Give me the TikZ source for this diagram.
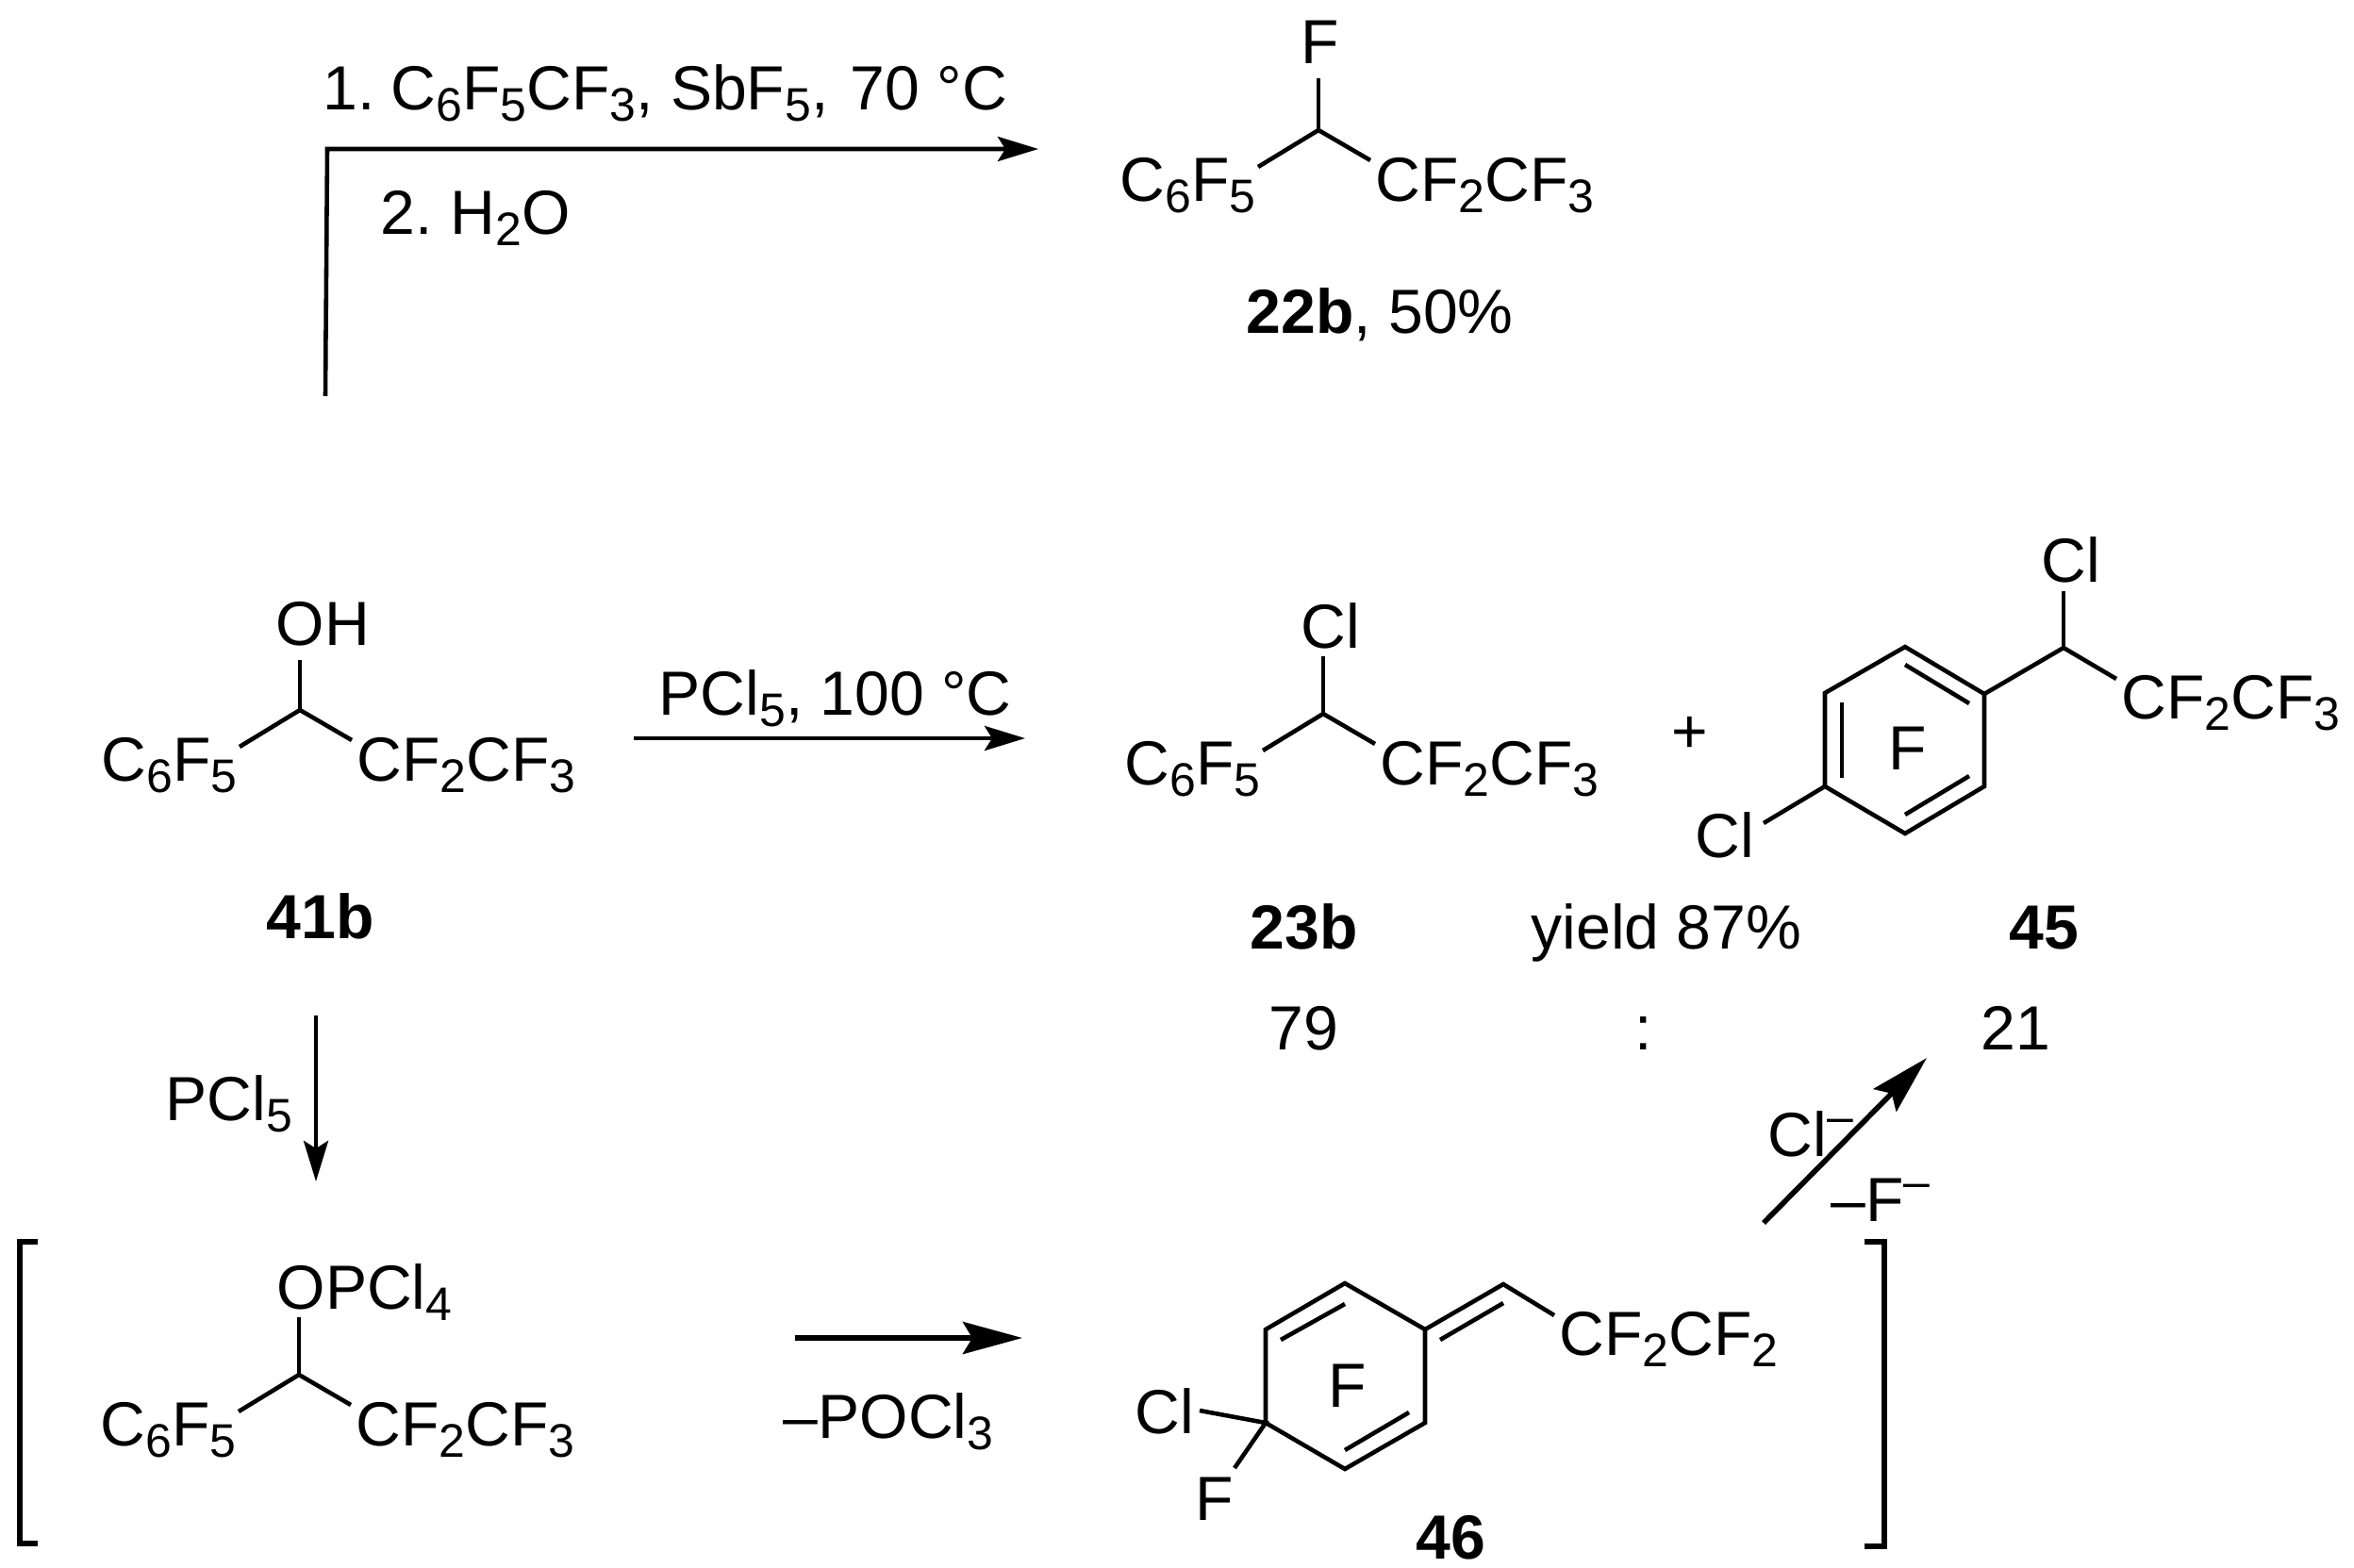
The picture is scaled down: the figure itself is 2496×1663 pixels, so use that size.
\documentclass[tikz,border=0pt]{standalone}
\usepackage{fontspec}
\setmainfont{Liberation Sans}
\usetikzlibrary{arrows.meta}
\newcommand{\lowr}[1]{\raisebox{-.125cm}{\fontsize{14.2}{16}\selectfont #1}}
\newcommand{\highr}{\raisebox{.25cm}{\fontsize{14.2}{16}\selectfont --}}

\begin{document}
\begin{tikzpicture}
    [ x=.01cm, y=-.01cm,
      font=\fontsize{18.8}{22}\selectfont,
      bond/.style={line width=1.3pt},
      lbl/.style={inner sep=0pt, anchor=base west},
      thinrxn/.style={line width=1.3pt, -{Stealth[length=.43cm,width=.26cm,inset=.08cm]}},
      fatrxn/.style={line width=1.6pt, -{Stealth[length=.63cm,width=.34cm,inset=.1cm]}},
      bracket/.style={line width=1.5pt},
    ]
    \useasboundingbox (0,0) rectangle (2496,1663);

    % the four CH fragments
    \foreach \nm / \sx / \sy / \ttl / \tx / \ty / \ttop in {fr/1398/138/F/-19/-71/-55, clb/1403/757/Cl/-24/-70/-61,
                                                 ohb/318/753/OH/-26/-69/-53, opc/317/1458/{OPCl\lowr{4}}/-24/-70/-61} {
        \begin{scope}[shift={(\sx,\sy)}]
            \coordinate (\nm c) at (0, 0);
            \coordinate (\nm t) at (0, \ttop);
            \coordinate (\nm l) at (-64, 39);
            \coordinate (\nm r) at (55, 32);
            \node[lbl] (\nm top) at (\tx, \ty) {\ttl};
            \node[lbl] (\nm left) at (-211, 75) {C\lowr{6}F\lowr{5}};
            \node[lbl] (\nm right) at (60, 75) {CF\lowr{2}CF\lowr{3}};
            \draw[bond] (\nm t) -- (\nm c);
            \draw[bond] (\nm l) -- (\nm c) -- (\nm r);
        \end{scope}
    }

    % top reaction
    \coordinate (tstart) at (345, 420);
    \coordinate (tcorner) at (347, 158);
    \coordinate (tend) at (1101, 158);
    \draw[thinrxn] (tstart) -- (tcorner) -- (tend);
    \node[lbl] (tcond) at (342, 116) {1.\kern.17cm C\lowr{6}F\lowr{5}CF\lowr{3}, SbF\lowr{5},\kern.05cm\ 70 °C};
    \node[lbl] (twater) at (403, 248) {2.\kern.19cm H\lowr{2}O};
    \node[lbl] (n22b) at (1321, 353) {\textbf{22b}, 50\%};

    % middle reaction
    \coordinate (mstart) at (672, 783);
    \coordinate (mend) at (1087, 783);
    \draw[thinrxn] (mstart) -- (mend);
    \node[lbl] (mcond) at (698, 758) {PCl\lowr{5}, 100 °C};
    \node[lbl] (n41b) at (282, 995) {\textbf{41b}};
    \node[lbl] (n23b) at (1325, 1006) {\textbf{23b}};
    \node[lbl] (yield) at (1623, 1006) {yield 87\%};
    \node[lbl] (n45) at (2130, 1006) {\textbf{45}};
    \node[lbl] (r79) at (1345, 1113) {79};
    \node[lbl] (rcol) at (1733, 1113) {:};
    \node[lbl] (r21) at (2100, 1113) {21};
    \node[lbl] (plus) at (1772, 798) {+};

    % ring of 45
    \coordinate (a1) at (2020, 686);
    \coordinate (a2) at (2104, 736);
    \coordinate (a3) at (2104, 834);
    \coordinate (a4) at (2020, 884);
    \coordinate (a5) at (1935, 834);
    \coordinate (a6) at (1935, 735);
    \draw[bond] (a1) -- (a2) -- (a3) -- (a4) -- (a5) -- (a6) -- cycle;
    \coordinate (a1i) at (2020, 705);
    \coordinate (a2i) at (2088, 746);
    \coordinate (a3i) at (2088, 823);
    \coordinate (a4i) at (2020, 864);
    \coordinate (a5i) at (1953, 825);
    \coordinate (a6i) at (1953, 745);
    \draw[bond] (a1i) -- (a2i);
    \draw[bond] (a3i) -- (a4i);
    \draw[bond] (a5i) -- (a6i);
    \coordinate (sc) at (2188, 687);
    \coordinate (st) at (2188, 627);
    \coordinate (sr) at (2244, 720);
    \coordinate (scl) at (1870, 873);
    \draw[bond] (a2) -- (sc) -- (sr);
    \draw[bond] (sc) -- (st);
    \draw[bond] (a5) -- (scl);
    \node[lbl] (ringf) at (2002, 816) {F};
    \node[lbl] (topcl) at (2164, 617) {Cl};
    \node[lbl] (sidecf) at (2249, 762) {CF\lowr{2}CF\lowr{3}};
    \node[lbl] (lowcl) at (1797, 909) {Cl};

    % bottom row
    \coordinate (dstart) at (335, 1077);
    \coordinate (dend) at (335, 1253);
    \draw[thinrxn] (dstart) -- (dend);
    \node[lbl] (dcond) at (175, 1188) {PCl\lowr{5}};

    \coordinate (ltop) at (40, 1317);
    \coordinate (ltc) at (21, 1317);
    \coordinate (lbc) at (21, 1637);
    \coordinate (lbot) at (40, 1637);
    \draw[bracket] (ltop) -- (ltc) -- (lbc) -- (lbot);

    \coordinate (bstart) at (843, 1419);
    \coordinate (bend) at (1084, 1419);
    \draw[fatrxn] (bstart) -- (bend);
    \node[lbl] (bcond) at (830, 1525) {--POCl\lowr{3}};

    % ring of 46
    \coordinate (q1) at (1426, 1361);
    \coordinate (q2) at (1511, 1410);
    \coordinate (q3) at (1511, 1509);
    \coordinate (q4) at (1426, 1558);
    \coordinate (q5) at (1342, 1509);
    \coordinate (q6) at (1342, 1410);
    \draw[bond] (q1) -- (q2) -- (q3) -- (q4) -- (q5) -- (q6) -- cycle;
    \coordinate (q1i) at (1426, 1383);
    \coordinate (q6i) at (1358, 1421);
    \coordinate (q3i) at (1494, 1498);
    \coordinate (q4i) at (1426, 1538);
    \draw[bond] (q1i) -- (q6i);
    \draw[bond] (q3i) -- (q4i);
    \coordinate (ve) at (1594, 1362);
    \coordinate (vei) at (1594, 1382);
    \coordinate (vqi) at (1527, 1421);
    \coordinate (vr) at (1648, 1395);
    \coordinate (qcl) at (1272, 1496);
    \coordinate (qf) at (1309, 1557);
    \draw[bond] (q2) -- (ve) -- (vr);
    \draw[bond] (vqi) -- (vei);
    \draw[bond] (qcl) -- (q5) -- (qf);
    \node[lbl] (inf) at (1408, 1492) {F};
    \node[lbl] (lowf) at (1267, 1612) {F};
    \node[lbl] (incl) at (1203, 1520) {Cl};
    \node[lbl] (vcf) at (1653, 1437) {CF\lowr{2}CF\lowr{2}};
    \node[lbl] (n46) at (1501, 1653) {\textbf{46}};

    \coordinate (rtop) at (1977, 1317);
    \coordinate (rtc) at (1998, 1317);
    \coordinate (rbc) at (1998, 1640);
    \coordinate (rbot) at (1977, 1640);
    \draw[bracket] (rtop) -- (rtc) -- (rbc) -- (rbot);

    \coordinate (ustart) at (1870, 1297);
    \coordinate (uend) at (2043, 1122);
    \draw[fatrxn] (ustart) -- (uend);
    \node[lbl] (ucl) at (1874, 1226) {Cl\highr};
    \node[lbl] (uf) at (1941, 1295) {--F\highr};
\end{tikzpicture}
\end{document}
